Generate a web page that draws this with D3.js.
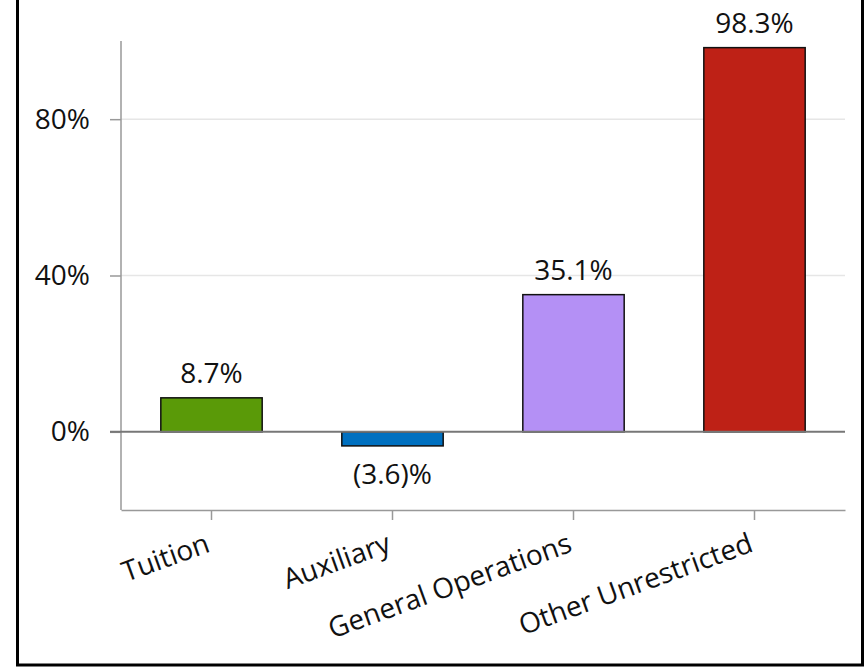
<!DOCTYPE html>
<html><head><meta charset="utf-8">
<script src="https://cdn.jsdelivr.net/npm/d3@7"></script>
<style>body{margin:0;background:#fff}svg{display:block}</style>
</head><body>
<svg id="c" width="865" height="668"></svg>
<script>
const categories = ["Tuition", "Auxiliary", "General Operations", "Other Unrestricted"];
const values = [8.7, -3.6, 35.1, 98.3];
const labels = ["8.7%", "(3.6)%", "35.1%", "98.3%"];
const colors = ["#5a9a08", "#0070c0", "#b490f5", "#be2116"];
const yTicks = [0, 40, 80];

const svg = d3.select("#c");
const font = "'Open Sans', 'Noto Sans', sans-serif";
const m = {l: 121, r: 845, t: 41, b: 510};

const x = d3.scaleBand().domain(categories).range([m.l, m.r]).padding(0);
const y = d3.scaleLinear().domain([-20, 100]).range([m.b, m.t]);
const bw = x.bandwidth() * 0.56;

// frame
svg.append("rect").attr("x", 17.5).attr("y", -10).attr("width", 845).attr("height", 675)
  .attr("fill", "none").attr("stroke", "#000").attr("stroke-width", 3);

// gridlines
svg.append("g").selectAll("line").data(yTicks.filter(d => d !== 0)).join("line")
  .attr("x1", m.l).attr("x2", m.r).attr("y1", d => y(d)).attr("y2", d => y(d))
  .attr("stroke", "#e6e6e6").attr("stroke-width", 1.5);

// y axis
const ya = svg.append("g").attr("transform", `translate(${m.l},0)`)
  .call(d3.axisLeft(y).tickValues(yTicks).tickFormat(d => d + "%").tickSize(11).tickPadding(20));
ya.select(".domain").attr("stroke", "#999").attr("stroke-width", 1.5).attr("d", `M0,${m.t}V${m.b}`);
ya.selectAll(".tick line").attr("stroke", "#999").attr("stroke-width", 1.5);
ya.selectAll(".tick text").attr("font-family", font).attr("font-size", 28).attr("fill", "#111");

// x axis
const xa = svg.append("g").attr("transform", `translate(0,${m.b})`)
  .call(d3.axisBottom(x).tickSize(10).tickSizeOuter(0));
xa.select(".domain").attr("stroke", "#999").attr("stroke-width", 1.5);
xa.selectAll(".tick line").attr("stroke", "#999").attr("stroke-width", 1.5);
xa.selectAll(".tick text").attr("font-family", font).attr("font-size", 28).attr("fill", "#111")
  .attr("text-anchor", "end").attr("dy", 0).attr("y", 0)
  .attr("transform", "translate(0,41) rotate(-20)");

// bars
svg.append("g").selectAll("rect").data(values).join("rect")
  .attr("x", (d, i) => x(categories[i]) + x.bandwidth() / 2 - bw / 2)
  .attr("width", bw)
  .attr("y", d => y(Math.max(0, d)))
  .attr("height", d => Math.abs(y(d) - y(0)))
  .attr("fill", (d, i) => colors[i])
  .attr("stroke", "#111").attr("stroke-width", 1.5);

// zero line
svg.append("line").attr("x1", m.l - 11).attr("x2", m.r).attr("y1", y(0)).attr("y2", y(0))
  .attr("stroke", "#777").attr("stroke-width", 2);

// value labels
svg.append("g").selectAll("text").data(values).join("text")
  .attr("x", (d, i) => x(categories[i]) + x.bandwidth() / 2)
  .attr("y", d => d >= 0 ? y(d) - 15 : y(d) + 38)
  .attr("text-anchor", "middle")
  .attr("font-family", font).attr("font-size", 28).attr("fill", "#111")
  .text((d, i) => labels[i]);
</script>
</body></html>
